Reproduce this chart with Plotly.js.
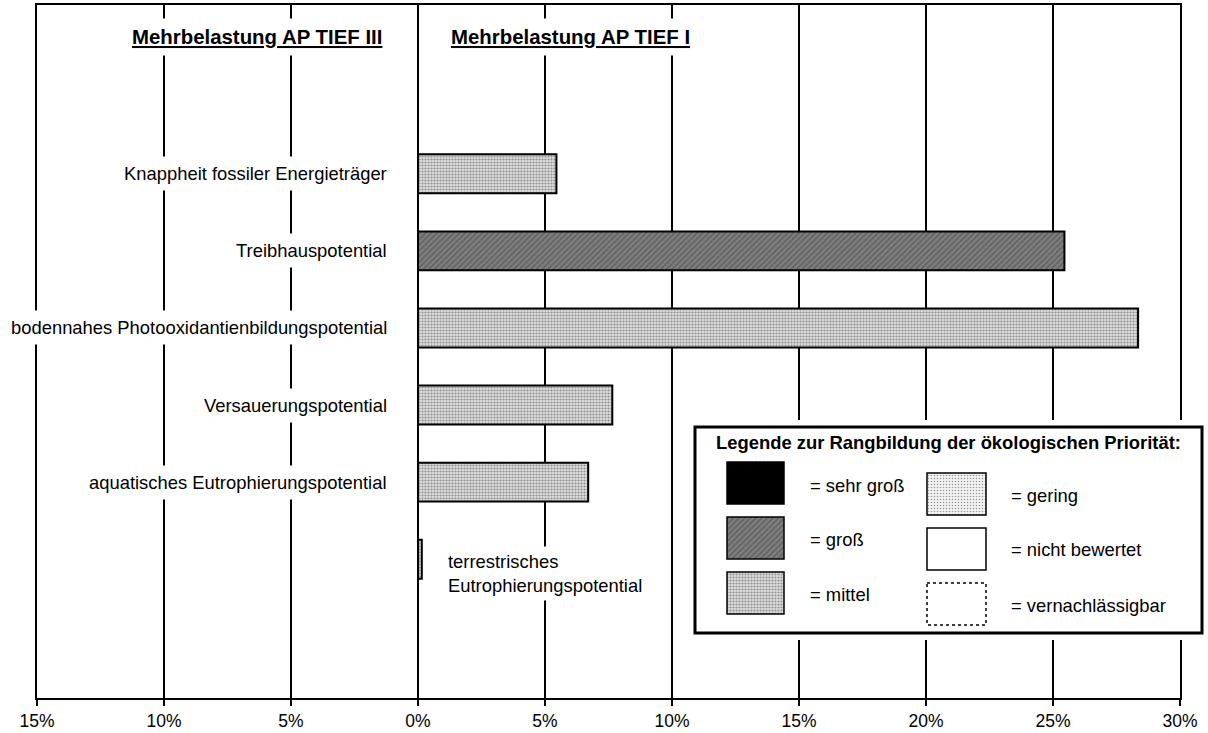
<!DOCTYPE html>
<html>
<head>
<meta charset="utf-8">
<script src="https://cdn.plot.ly/plotly-3.0.1.min.js"></script>
<style>html,body{margin:0;padding:0;background:#fff;}#chart{width:1208px;height:733px;}</style>
</head>
<body>
<div id="chart"></div>
<script>
// ---- data ----
const categories = [
  'terrestrisches Eutrophierungspotential',
  'aquatisches Eutrophierungspotential',
  'Versauerungspotential',
  'bodennahes Photooxidantienbildungspotential',
  'Treibhauspotential',
  'Knappheit fossiler Energieträger'
];
const categoryLabels = [
  'terrestrisches<br>Eutrophierungspotential',
  'aquatisches Eutrophierungspotential',
  'Versauerungspotential',
  'bodennahes Photooxidantienbildungspotential',
  'Treibhauspotential',
  'Knappheit fossiler Energieträger'
];
const mehrbelastung = [0.15, 6.7, 7.65, 28.35, 25.45, 5.45];   // % Mehrbelastung AP TIEF I
const prioritaet = ['mittel', 'mittel', 'mittel', 'mittel', 'groß', 'mittel'];
const tickVals = [-15, -10, -5, 0, 5, 10, 15, 20, 25, 30];
const tickText = ['15%', '10%', '5%', '0%', '5%', '10%', '15%', '20%', '25%', '30%'];
const leftTitle = 'Mehrbelastung AP TIEF III';
const rightTitle = 'Mehrbelastung AP TIEF I';
const legendTitle = 'Legende zur Rangbildung der ökologischen Priorität:';
const legendLeft = ['sehr groß', 'groß', 'mittel'];
const legendRight = ['gering', 'nicht bewertet', 'vernachlässigbar'];

// ---- styles per priority ----
const styles = {
  'sehr groß':        {bg: '#000000', shape: '',  fg: '#000000', size: 4, sol: 0.5, lw: 1.5},
  'groß':             {bg: '#808080', shape: '/', fg: '#000000', size: 4, sol: 0.45, lw: 1.5},
  'mittel':           {bg: '#dedede', shape: '.', fg: '#000000', size: 3, sol: 0.42, lw: 1.5},
  'gering':           {bg: '#f2f2f2', shape: '.', fg: '#555555', size: 3, sol: 0.22, lw: 1.5},
  'nicht bewertet':   {bg: '#ffffff', shape: '',  fg: '#ffffff', size: 4, sol: 0.5, lw: 1.5},
  'vernachlässigbar': {bg: '#ffffff', shape: '',  fg: '#ffffff', size: 4, sol: 0.5, lw: 0}
};
function patternOf(list) {
  return {
    shape: list.map(k => styles[k].shape),
    fgcolor: list.map(k => styles[k].fg),
    size: list.map(k => styles[k].size),
    solidity: list.map(k => styles[k].sol),
    fillmode: 'overlay'
  };
}

const FONT = 'Liberation Sans, Arial, Helvetica, sans-serif';
const W = 1208, H = 733;
const px = v => v / W;               // horizontal pixel -> paper
const py = v => 1 - v / H;           // vertical pixel -> paper

const mainBars = {
  type: 'bar', orientation: 'h',
  x: mehrbelastung, y: categories,
  xaxis: 'x', yaxis: 'y',
  width: 0.505,
  marker: {
    color: prioritaet.map(k => styles[k].bg),
    pattern: patternOf(prioritaet),
    line: {color: '#000', width: 2}
  },
  hoverinfo: 'x+y'
};

// legend swatches (drawn in a pixel-scaled helper subplot)
const leftRowsY = [483, 538, 593];
const rightRowsY = [494, 549, 604];
const legLeftBars = {
  type: 'bar', orientation: 'h', xaxis: 'x2', yaxis: 'y2',
  y: leftRowsY, x: legendLeft.map(() => 57), base: 727, width: 42,
  marker: {
    color: legendLeft.map(k => styles[k].bg),
    pattern: patternOf(legendLeft),
    line: {color: '#000', width: legendLeft.map(k => styles[k].lw)}
  },
  hoverinfo: 'skip'
};
const legRightBars = {
  type: 'bar', orientation: 'h', xaxis: 'x2', yaxis: 'y2',
  y: rightRowsY, x: legendRight.map(() => 59), base: 927, width: 42,
  marker: {
    color: legendRight.map(k => styles[k].bg),
    pattern: patternOf(legendRight),
    line: {color: '#000', width: legendRight.map(k => styles[k].lw)}
  },
  hoverinfo: 'skip'
};

const annotations = [];
// category labels
categories.forEach((c, i) => {
  if (i === 0) {
    annotations.push({
      x: 0, y: c, xref: 'x', yref: 'y', text: categoryLabels[i],
      showarrow: false, xanchor: 'left', yanchor: 'middle', align: 'left',
      xshift: 25, yshift: -14, bgcolor: '#fff', borderpad: 4,
      font: {family: FONT, size: 18.4, color: '#000'}
    });
  } else {
    annotations.push({
      x: 0, y: c, xref: 'x', yref: 'y', text: categoryLabels[i],
      showarrow: false, xanchor: 'right', yanchor: 'middle', align: 'right',
      xshift: -24, bgcolor: '#fff', borderpad: 6,
      font: {family: FONT, size: 18.4, color: '#000'}
    });
  }
});
// section titles
annotations.push({
  x: 0, y: py(37), xref: 'x', yref: 'paper', text: '<b><u>' + leftTitle + '</u></b>',
  showarrow: false, xanchor: 'right', yanchor: 'middle', xshift: -28,
  bgcolor: '#fff', borderpad: 7, font: {family: FONT, size: 20.4, color: '#000'}
});
annotations.push({
  x: 0, y: py(37), xref: 'x', yref: 'paper', text: '<b><u>' + rightTitle + '</u></b>',
  showarrow: false, xanchor: 'left', yanchor: 'middle', xshift: 25,
  bgcolor: '#fff', borderpad: 7, font: {family: FONT, size: 20.4, color: '#000'}
});
// legend texts
annotations.push({
  x: 948.5, y: 442, xref: 'x2', yref: 'y2', text: '<b>' + legendTitle + '</b>',
  showarrow: false, xanchor: 'center', yanchor: 'middle',
  font: {family: FONT, size: 18.4, color: '#000'}
});
legendLeft.forEach((k, i) => annotations.push({
  x: 808, y: [485, 539, 594][i], xref: 'x2', yref: 'y2', text: '= ' + k,
  showarrow: false, xanchor: 'left', yanchor: 'middle',
  font: {family: FONT, size: 18.4, color: '#000'}
}));
legendRight.forEach((k, i) => annotations.push({
  x: 1009, y: [495, 549, 605][i], xref: 'x2', yref: 'y2', text: '= ' + k,
  showarrow: false, xanchor: 'left', yanchor: 'middle',
  font: {family: FONT, size: 18.4, color: '#000'}
}));

const shapes = [
  // legend frame (white, covers grid of main plot)
  {type: 'rect', xref: 'x2', yref: 'y2', x0: 695, x1: 1202, y0: 427, y1: 633,
   line: {color: '#000', width: 3}, fillcolor: '#fff', layer: 'below'},
  // dotted swatch "vernachlässigbar"
  {type: 'rect', xref: 'x2', yref: 'y2', x0: 927, x1: 986, y0: 583, y1: 625,
   line: {color: '#000', width: 1.5, dash: 'dot'}, fillcolor: 'rgba(0,0,0,0)', layer: 'above'}
];

const layout = {
  width: W, height: H,
  margin: {l: 0, r: 0, t: 0, b: 0, pad: 0},
  paper_bgcolor: '#fff', plot_bgcolor: '#fff',
  showlegend: false, barmode: 'overlay',
  font: {family: FONT, size: 18, color: '#000'},
  xaxis: {
    domain: [px(37), px(1180)], range: [-15, 30], anchor: 'y',
    tickvals: tickVals, ticktext: tickText,
    showgrid: true, gridcolor: '#000', gridwidth: 1.5, zeroline: false,
    showline: true, linecolor: '#000', linewidth: 2, mirror: true,
    ticks: 'outside', ticklen: 6, tickwidth: 1.5, tickcolor: '#000',
    tickfont: {family: FONT, size: 17.5, color: '#000'}, fixedrange: true
  },
  yaxis: {
    domain: [35 / H, 728 / H], anchor: 'x',
    type: 'category', categoryorder: 'array', categoryarray: categories,
    range: [-1.80, 7.19], showticklabels: false, ticks: '',
    showgrid: false, zeroline: false,
    showline: true, linecolor: '#000', linewidth: 2, mirror: true, fixedrange: true
  },
  xaxis2: {domain: [px(690), px(1207)], range: [690, 1207], anchor: 'y2',
           visible: false, fixedrange: true},
  yaxis2: {domain: [(H - 640) / H, (H - 420) / H], range: [640, 420], anchor: 'x2',
           visible: false, fixedrange: true},
  annotations: annotations,
  shapes: shapes
};

Plotly.newPlot('chart', [mainBars, legLeftBars, legRightBars], layout, {displayModeBar: false, staticPlot: true});
</script>
</body>
</html>
